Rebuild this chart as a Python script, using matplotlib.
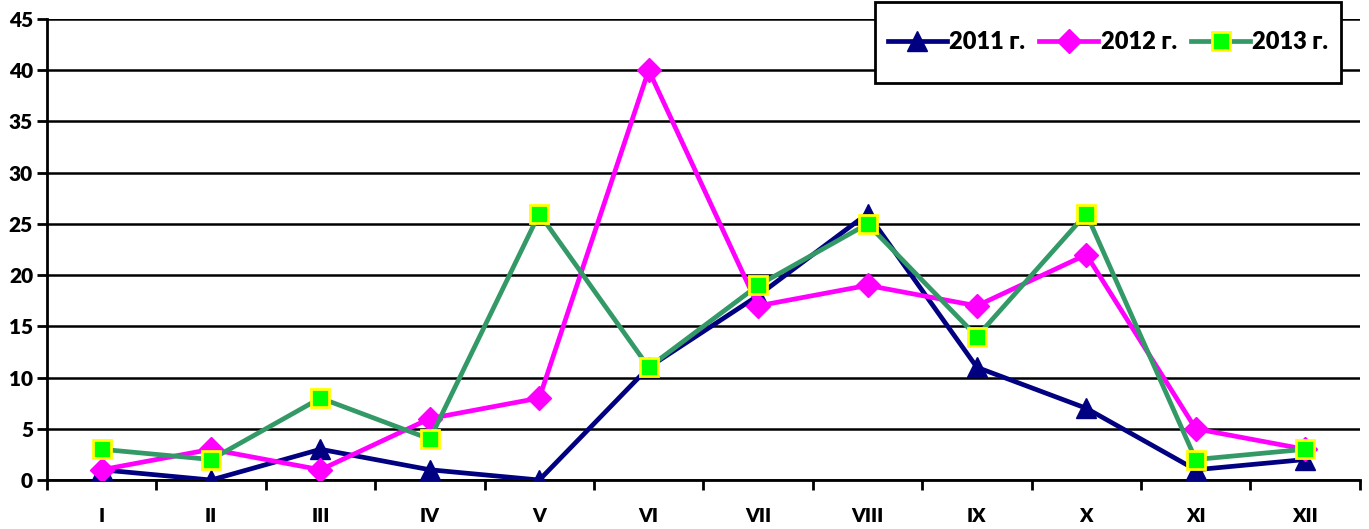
import matplotlib.pyplot as plt
from matplotlib.patches import Rectangle
import numpy as np

plt.rcParams['font.family'] = ['Lato', 'DejaVu Sans']
plt.rcParams['font.weight'] = 'heavy'

months = ['I', 'II', 'III', 'IV', 'V', 'VI', 'VII', 'VIII', 'IX', 'X', 'XI', 'XII']
y2011 = [1, 0, 3, 1, 0, 11, 18, 26, 11, 7, 1, 2]
y2012 = [1, 3, 1, 6, 8, 40, 17, 19, 17, 22, 5, 3]
y2013 = [3, 2, 8, 4, 26, 11, 19, 25, 14, 26, 2, 3]
labels = ['2011 г.', '2012 г.', '2013 г.']

fig = plt.figure(figsize=(13.69, 5.29), dpi=100)
ax = fig.add_axes([0.0343, 0.0926, 0.959, 0.8715])

x = np.arange(len(months))
ax.plot(x, y2011, color='#000080', lw=3.4, marker='^', ms=15,
        mfc='#000080', mec='#000080', label=labels[0], zorder=3)
ax.plot(x, y2012, color='#FF00FF', lw=3.4, marker='D', ms=12,
        mfc='#FF00FF', mec='#FF00FF', label=labels[1], zorder=4)
ax.plot(x, y2013, color='#339966', lw=3.4, marker='s', ms=13,
        mfc='#00FF00', mec='#FFFF00', mew=2, label=labels[2], zorder=5)

ax.set_xlim(-0.5, len(months) - 0.5)
ax.set_ylim(0, 45)
ax.set_yticks(np.arange(0, 46, 5))
ax.set_xticks(np.arange(-0.5, len(months), 1))
ax.set_xticklabels([])
ax.set_xticks(x, minor=True)
ax.set_xticklabels(months, minor=True)
ax.tick_params(axis='x', which='minor', length=0, pad=20, labelsize=14)
ax.tick_params(axis='x', which='major', length=7, width=2, direction='out')
ax.tick_params(axis='y', length=7, width=2, direction='out', labelsize=15, pad=3)

ax.grid(axis='y', color='black', lw=1.8)
ax.set_axisbelow(True)
for side in ['top', 'right']:
    ax.spines[side].set_visible(False)
for side in ['left', 'bottom']:
    ax.spines[side].set_linewidth(2)

# legend box: white panel with black border, entries centred inside it
box = Rectangle((0.639, 0.843), 0.3404, 0.153, transform=fig.transFigure,
                facecolor='white', edgecolor='black', lw=2, zorder=10)
fig.patches.append(box)
leg = fig.legend(loc='center', bbox_to_anchor=(0.8094, 0.9197), ncol=3,
                 fontsize=17, frameon=False, handlelength=2.5,
                 handletextpad=0.1, columnspacing=0.6, borderpad=0)
leg.set_zorder(11)

fig.savefig('out.png', dpi=100)
